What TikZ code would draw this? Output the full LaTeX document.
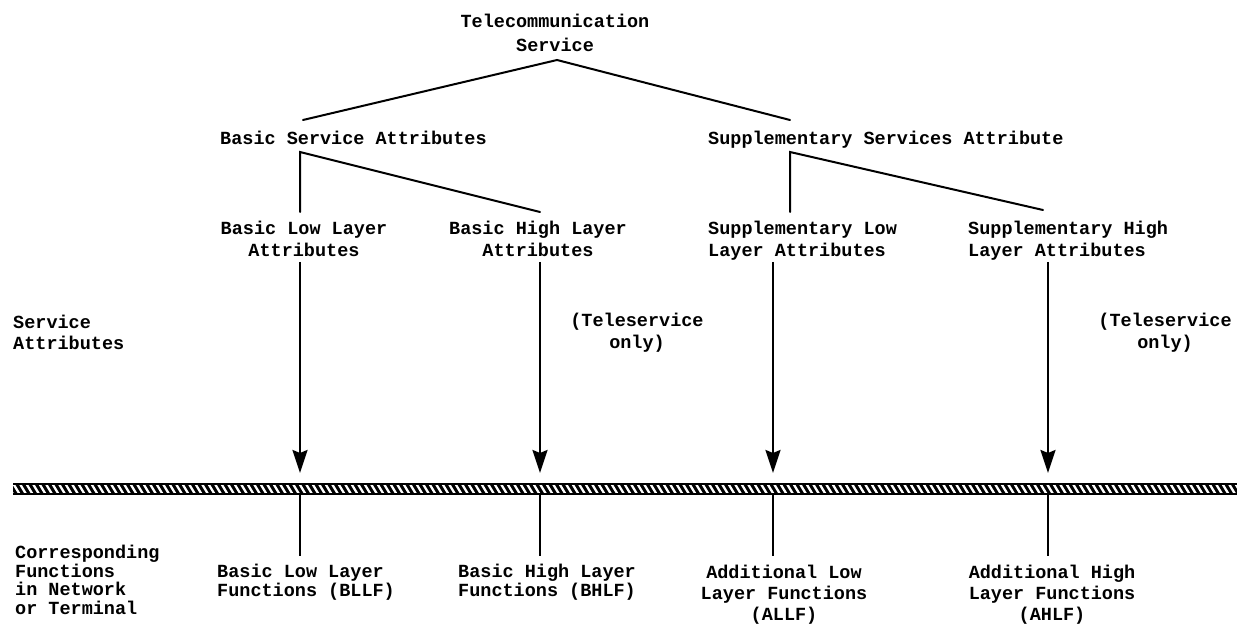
\documentclass[tikz,border=0pt]{standalone}
\usepackage{fontspec}
\setmonofont{Liberation Mono}
\usetikzlibrary{arrows.meta}
\begin{document}
\begin{tikzpicture}[x=1pt,y=-1pt,
  txt/.style={font=\ttfamily\bfseries\fontsize{18.5}{21}\selectfont, inner sep=0pt, anchor=north west, align=left},
  ctxt/.style={txt, anchor=north, align=center},
  conn/.style={line width=2pt, line cap=round},
  arr/.style={line width=2.4pt, -{Stealth[length=23pt,width=15pt,inset=3pt]}},
  tick/.style={line width=2.4pt}]
\useasboundingbox (0,0) rectangle (1247,628);
\fill[white] (0,0) rectangle (1247,628);

% texts
\node[ctxt, font=\ttfamily\bfseries\fontsize{18.5}{24}\selectfont] (tel) at (555,14) {Telecommunication\\Service};
\node[txt] (bsa) at (220,131) {Basic Service Attributes};
\node[txt] (ssa) at (708,131) {Supplementary Services Attribute};
\node[ctxt, font=\ttfamily\bfseries\fontsize{18.5}{22}\selectfont] (blla) at (304,221) {Basic Low Layer\\Attributes};
\node[ctxt, font=\ttfamily\bfseries\fontsize{18.5}{22}\selectfont] (bhla) at (538,221) {Basic High Layer\\Attributes};
\node[txt, font=\ttfamily\bfseries\fontsize{18.5}{22}\selectfont] (slla) at (708,221) {Supplementary Low\\Layer Attributes};
\node[txt, font=\ttfamily\bfseries\fontsize{18.5}{22}\selectfont] (shla) at (968,221) {Supplementary High\\Layer Attributes};
\node[txt] (sa) at (13,315) {Service\\Attributes};
\node[ctxt, font=\ttfamily\bfseries\fontsize{18.5}{22}\selectfont] (ts1) at (637,313) {(Teleservice\\only)};
\node[ctxt, font=\ttfamily\bfseries\fontsize{18.5}{22}\selectfont] (ts2) at (1165,313) {(Teleservice\\only)};
\node[txt, font=\ttfamily\bfseries\fontsize{18.5}{18.5}\selectfont] (corr) at (15,545) {Corresponding\\Functions\\in Network\\or Terminal};
\node[txt, font=\ttfamily\bfseries\fontsize{18.5}{18.5}\selectfont] (bllf) at (217,564) {Basic Low Layer\\Functions (BLLF)};
\node[txt, font=\ttfamily\bfseries\fontsize{18.5}{18.5}\selectfont] (bhlf) at (458,564) {Basic High Layer\\Functions (BHLF)};
\node[ctxt] (allf) at (784,565) {Additional Low\\Layer Functions\\(ALLF)};
\node[ctxt] (ahlf) at (1052,565) {Additional High\\Layer Functions\\(AHLF)};

% junction coordinates
\coordinate (apex) at (557,60);
\coordinate (bsaT) at (303,120);
\coordinate (ssaT) at (790,120);
\coordinate (bsaB) at (300,152);
\coordinate (ssaB) at (790,152);
\coordinate (bllaT) at (300,212);
\coordinate (bhlaT) at (540,212);
\coordinate (sllaT) at (790,212);
\coordinate (shlaT) at (1043,210);
\foreach \n/\x in {a/300,b/540,c/773,d/1048}{
  \coordinate (s\n) at (\x,262);
  \coordinate (e\n) at (\x,473);
  \coordinate (u\n) at (\x,494);
  \coordinate (v\n) at (\x,556);
}

% tree lines
\draw[conn] (bsaT) -- (apex) -- (ssaT);
\draw[conn] (bllaT) -- (bsaB) -- (bhlaT);
\draw[conn] (sllaT) -- (ssaB) -- (shlaT);

% arrows
\foreach \n in {a,b,c,d}{
  \draw[arr] (s\n) -- (e\n);
  \draw[tick] (u\n) -- (v\n);
}

% hatched bar
\coordinate (barL) at (13,483);
\coordinate (barR) at (1237,495);
\fill[black] (barL) rectangle (barR);
\begin{scope}
  \clip (13,485.5) rectangle (1237,492.5);
  \foreach \x in {7,13.5,...,1243}{
    \draw[white, line width=2.3pt] (\x,484) -- (\x+6,494);
  }
\end{scope}
\end{tikzpicture}
\end{document}
